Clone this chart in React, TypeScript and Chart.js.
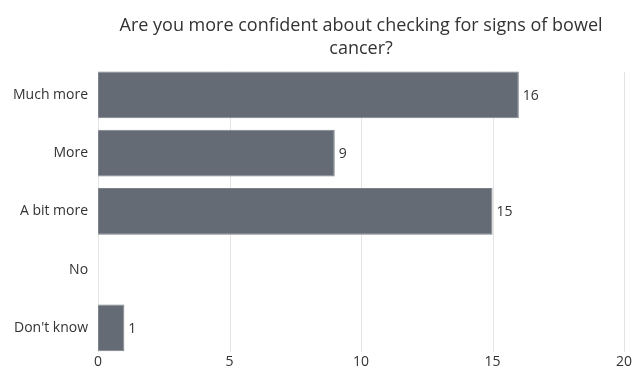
import React, { useEffect, useRef } from "react";
import { Chart, registerables } from "chart.js";

Chart.register(...registerables);

const categories = ["Much more", "More", "A bit more", "No", "Don't know"];
const values = [16, 9, 15, 0, 1];
const xTicks = [0, 5, 10, 15, 20];
const titleLines = ["Are you more confident about checking for signs of bowel", "cancer?"];

const FONT = "'Open Sans', sans-serif";
const TEXT = "#333333";

// Draws x gridlines (inset from the category band) and the x tick labels using the x scale.
const xAxisDecor = {
  id: "xAxisDecor",
  beforeDatasetsDraw(chart: any) {
    const { ctx, chartArea } = chart;
    const x = chart.scales.x;
    ctx.save();
    ctx.strokeStyle = "#e4e4e4";
    ctx.lineWidth = 1;
    xTicks.forEach((v) => {
      const px = Math.round(x.getPixelForValue(v)) + 0.5;
      ctx.beginPath();
      ctx.moveTo(px, chartArea.top + 6);
      ctx.lineTo(px, chartArea.bottom - 5);
      ctx.stroke();
    });
    ctx.restore();
  },
  afterDraw(chart: any) {
    const { ctx, chartArea } = chart;
    const x = chart.scales.x;
    ctx.save();
    ctx.font = `14px ${FONT}`;
    ctx.fillStyle = TEXT;
    ctx.textAlign = "center";
    ctx.textBaseline = "middle";
    xTicks.forEach((v) => {
      ctx.fillText(String(v), x.getPixelForValue(v), chartArea.bottom + 5);
    });
    ctx.restore();
  },
};

const valueLabels = {
  id: "valueLabels",
  afterDatasetsDraw(chart: any) {
    const { ctx } = chart;
    const meta = chart.getDatasetMeta(0);
    ctx.save();
    ctx.font = `14px ${FONT}`;
    ctx.fillStyle = TEXT;
    ctx.textAlign = "left";
    ctx.textBaseline = "middle";
    meta.data.forEach((bar: any, i: number) => {
      const v = values[i];
      if (!v) return;
      ctx.fillText(String(v), bar.x + 4, bar.y + 1);
    });
    ctx.restore();
  },
};

export default function App() {
  const ref = useRef<HTMLCanvasElement>(null);
  useEffect(() => {
    document.body.style.margin = "0";
    const chart = new Chart(ref.current!, {
      type: "bar",
      data: {
        labels: categories,
        datasets: [
          {
            data: values,
            backgroundColor: "#646b75",
            borderColor: "#7b8089",
            borderWidth: 1,
            barPercentage: 0.8,
            categoryPercentage: 1,
          },
        ],
      },
      options: {
        indexAxis: "y",
        animation: false,
        responsive: false,
        maintainAspectRatio: false,
        layout: { padding: { left: 3, right: 9, top: 6, bottom: 12 } },
        plugins: {
          legend: { display: false },
          tooltip: { enabled: false },
          title: {
            display: true,
            text: titleLines,
            fullSize: false,
            color: TEXT,
            font: { family: FONT, size: 18, weight: "normal", lineHeight: 1.3 },
            padding: { top: 8, bottom: 5 },
          },
        },
        scales: {
          x: {
            min: 0,
            max: 20,
            afterBuildTicks(scale: any) {
              scale.ticks = xTicks.map((v) => ({ value: v }));
            },
            afterFit(scale: any) {
              scale.height = 0;
              scale.paddingLeft = 0;
              scale.paddingRight = 0;
            },
            grid: { display: false, drawTicks: false },
            border: { display: false },
            ticks: { display: false },
          },
          y: {
            afterFit(scale: any) {
              scale.paddingTop = 0;
              scale.paddingBottom = 0;
            },
            grid: { display: false, drawTicks: false },
            border: { display: false },
            ticks: { color: TEXT, font: { family: FONT, size: 14 }, padding: 10 },
          },
        },
      },
      plugins: [xAxisDecor, valueLabels],
    });
    return () => chart.destroy();
  }, []);
  return (
    <div style={{ width: 633, height: 369 }}>
      <canvas ref={ref} width={633} height={369} style={{ display: "block" }} />
    </div>
  );
}
